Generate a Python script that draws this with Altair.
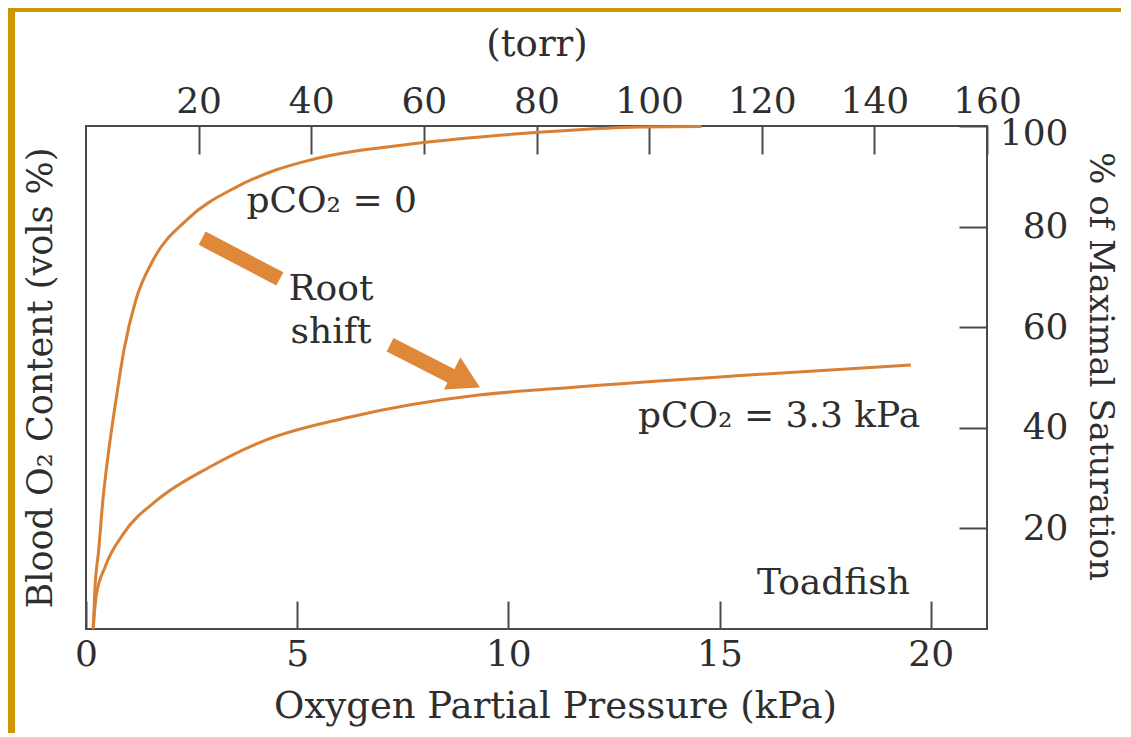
import altair as alt
import pandas as pd

# ---- data ----
kpa_ticks = [0, 5, 10, 15, 20]
torr_ticks = [20, 40, 60, 80, 100, 120, 140, 160]
sat_ticks = [20, 40, 60, 80, 100]

co2_zero_kpa = [0.17, 0.21, 0.30, 0.40, 0.54, 0.71, 0.90, 1.18, 1.60, 2.38, 3.57, 4.51, 5.29, 7.89, 10.48, 13.15, 14.57]
co2_zero_sat = [0, 7.8, 15.7, 25.6, 35.6, 45.5, 55.5, 65.4, 73.5, 81.3, 87.9, 91.3, 93.2, 96.6, 98.6, 99.8, 99.9]
co2_33_kpa = [0.17, 0.24, 0.45, 0.90, 1.68, 2.93, 4.27, 6.23, 9.30, 10.96, 15.68, 19.53]
co2_33_sat = [0, 6.5, 12.3, 19.1, 25.6, 32.2, 37.6, 42.1, 46.5, 47.7, 50.5, 52.5]

note_text = ["pCO₂ = 0", "Root", "shift", "pCO₂ = 3.3 kPa", "Toadfish"]
note_kpa = [3.80, 5.80, 5.80, 19.75, 19.51]
note_sat = [82.9, 65.4, 56.9, 40.2, 7.0]
note_align = ["left", "center", "center", "right", "right"]

shaft_kpa = [2.75, 7.20]
shaft_kpa2 = [4.59, 8.74]
shaft_sat = [77.7, 56.5]
shaft_sat2 = [69.6, 49.9]
head_kpa = [9.0]
head_sat = [49.4]

FONT = "DejaVu Serif"
TXT = "#2e2e2e"
ORANGE = "#d98034"
ARROW = "#e0883a"
GOLD = "#cc9700"
XMAX = 160 / 7.5
W, H = 901, 503

xs = alt.Scale(domain=[0, XMAX], nice=False, zero=False)
ys = alt.Scale(domain=[0, 100], nice=False, zero=False)

curves = pd.DataFrame({
    "series": ["zero"] * len(co2_zero_kpa) + ["high"] * len(co2_33_kpa),
    "kpa": co2_zero_kpa + co2_33_kpa,
    "sat": co2_zero_sat + co2_33_sat,
})

label_style = dict(labelFont=FONT, labelFontSize=36, labelColor=TXT,
                   grid=False, labelFlush=False, labelOverlap=False)
title_style = dict(titleFont=FONT, titleColor=TXT, titleFontWeight="normal")

bottom_axis = alt.Axis(
    orient="bottom", values=kpa_ticks, offset=-28, tickSize=28, tickWidth=2,
    tickColor="#4a4a4a", domain=False, labelPadding=8, format="d",
    title="Oxygen Partial Pressure (kPa)", titleFontSize=37, titlePadding=16, titleX=469,
    **label_style, **title_style,
)
left_axis = alt.Axis(
    orient="left", domain=False, ticks=False, labels=False,
    title="Blood O₂ Content (vols %)", titleFontSize=35, titleX=-46, titleY=H / 2,
    titleAngle=-90, titleBaseline="middle", titleAlign="center",
    **label_style, **title_style,
)
top_axis = alt.Axis(
    orient="top", values=[t / 7.5 for t in torr_ticks], offset=-28, tickSize=28,
    tickWidth=2, tickColor="#4a4a4a", domain=False, labelPadding=6,
    labelExpr="format(round(datum.value * 7.5), 'd')",
    title="(torr)", titleFontSize=37, titlePadding=20,
    **label_style, **title_style,
)
right_axis = alt.Axis(
    orient="right", values=sat_ticks, offset=-28, tickSize=28, tickWidth=2,
    tickColor="#4a4a4a", domain=False, labelPadding=81, labelAlign="right",
    labelOffset=alt.condition("datum.value == 100", alt.value(7), alt.value(0)),
    title="% of Maximal Saturation", titleFontSize=34, titleAngle=90,
    titlePadding=31, titleY=240, titleAlign="center", titleBaseline="middle",
    **label_style, **title_style,
)

curve_layer = alt.Chart(curves).mark_line(
    color=ORANGE, strokeWidth=3, interpolate="monotone"
).encode(
    x=alt.X("kpa:Q", scale=xs, axis=bottom_axis),
    y=alt.Y("sat:Q", scale=ys, axis=left_axis),
    detail="series:N",
)

top_layer = alt.Chart(pd.DataFrame({"torr": torr_ticks})).transform_calculate(
    kpa="datum.torr / 7.5"
).mark_point(opacity=0).encode(
    x=alt.X("kpa:Q", scale=xs, axis=top_axis),
    y=alt.value(0),
)

right_layer = alt.Chart(pd.DataFrame({"sat": sat_ticks})).mark_point(opacity=0).encode(
    y=alt.Y("sat:Q", scale=ys, axis=right_axis),
    x=alt.value(0),
)

notes = pd.DataFrame({"text": note_text, "kpa": note_kpa, "sat": note_sat, "align": note_align})
text_layers = []
for al in ["left", "center", "right"]:
    text_layers.append(
        alt.Chart(notes).transform_filter(alt.datum.align == al).mark_text(
            align=al, baseline="alphabetic", font=FONT, fontSize=36, color=TXT
        ).encode(
            x=alt.X("kpa:Q", scale=xs, axis=None),
            y=alt.Y("sat:Q", scale=ys, axis=None),
            text="text:N",
        )
    )

shafts = pd.DataFrame({"kpa": shaft_kpa, "kpa2": shaft_kpa2, "sat": shaft_sat, "sat2": shaft_sat2})
shaft_layer = alt.Chart(shafts).mark_rule(color=ARROW, strokeWidth=15, strokeCap="butt").encode(
    x=alt.X("kpa:Q", scale=xs, axis=None),
    x2="kpa2:Q",
    y=alt.Y("sat:Q", scale=ys, axis=None),
    y2="sat2:Q",
)
head_layer = alt.Chart(pd.DataFrame({"kpa": head_kpa, "sat": head_sat})).mark_point(
    shape="triangle-right", filled=True, color=ARROW, opacity=1, size=1300, angle=27
).encode(
    x=alt.X("kpa:Q", scale=xs, axis=None),
    y=alt.Y("sat:Q", scale=ys, axis=None),
)

# decorative slide border (gold strips along top and left edge)
one = pd.DataFrame({"a": [1]})
border_left = alt.Chart(one).mark_rect(color=GOLD).encode(
    x=alt.value(-78), x2=alt.value(-71), y=alt.value(-118), y2=alt.value(H + 104)
)
border_top = alt.Chart(one).mark_rect(color=GOLD).encode(
    x=alt.value(-78), x2=alt.value(W + 134), y=alt.value(-118), y2=alt.value(-114)
)

chart = alt.layer(
    border_left, border_top, curve_layer, top_layer, right_layer,
    shaft_layer, head_layer, *text_layers
).resolve_axis(x="independent", y="independent").properties(
    width=W, height=H,
    autosize=alt.AutoSizeParams(type="none"),
    padding={"left": 78, "top": 118, "right": 134, "bottom": 104},
    background="white",
).configure_view(stroke="#4a4a4a", strokeWidth=2)

chart.save("out.html", embed_options={"renderer": "svg", "actions": False})
